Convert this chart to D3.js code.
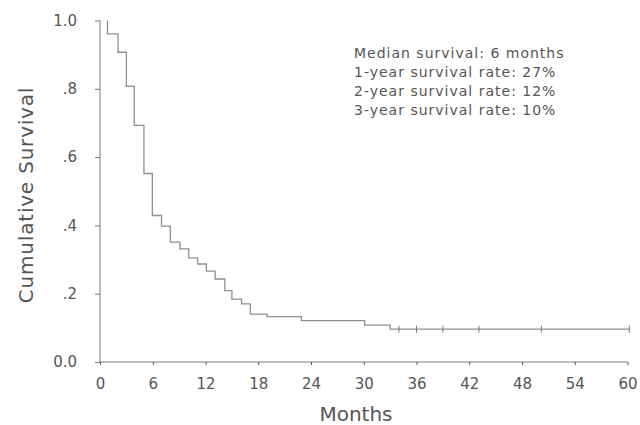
<!DOCTYPE html>
<html>
<head>
<meta charset="utf-8">
<script src="https://cdn.jsdelivr.net/npm/d3@7"></script>
<style>
  html, body { margin: 0; padding: 0; background: #fff; }
  svg { display: block; }
  text { font-family: "DejaVu Sans", Verdana, sans-serif; fill: #555; }
</style>
</head>
<body>
<svg id="chart" width="640" height="425"></svg>
<script>
// Kaplan-Meier estimate
const startTime = 0.85;               // first plotted time (survival = 1.0)
const eventTimes = [0.85, 2.05, 3.0, 3.9, 5.0, 5.95, 7.0, 8.0, 9.1, 10.1, 11.1, 12.1, 13.1, 14.2, 15.0, 16.1, 17.1, 19.0, 22.9, 30.1, 33.0];
const survival   = [0.961, 0.907, 0.807, 0.693, 0.552, 0.429, 0.398, 0.351, 0.331, 0.305, 0.287, 0.266, 0.243, 0.209, 0.184, 0.170, 0.140, 0.133, 0.121, 0.108, 0.096];
const endTime = 60.2;
const censorTimes = [34.0, 36.0, 39.0, 43.1, 50.2, 60.2];
const xTicks = [0, 6, 12, 18, 24, 30, 36, 42, 48, 54, 60];
const yTicks = [0, 0.2, 0.4, 0.6, 0.8, 1.0];
const yTickLabels = ["0.0", ".2", ".4", ".6", ".8", "1.0"];
const notes = ["Median survival: 6 months", "1-year survival rate: 27%", "2-year survival rate: 12%", "3-year survival rate: 10%"];

const svg = d3.select("#chart");
const x = d3.scaleLinear().domain([0, 60]).range([100, 627.5]);
const y = d3.scaleLinear().domain([0, 1]).range([362, 20.5]);
const axisColor = "#7a7a7a";
const font = "'DejaVu Sans', Verdana, sans-serif";

// Y axis
const yAxis = svg.append("g").attr("transform", `translate(${x(0)},0)`)
  .call(d3.axisLeft(y).tickValues(yTicks).tickSize(5).tickPadding(18)
    .tickFormat((d, i) => yTickLabels[i]));
yAxis.select(".domain").attr("stroke", axisColor).attr("d", `M0,${y(0)}V${y(1)}`);
yAxis.selectAll(".tick line").attr("stroke", axisColor);
yAxis.selectAll(".tick text").attr("fill", "#5a5a5a").style("font-size", "15px")
  .style("font-family", font);

// X axis
const xAxis = svg.append("g").attr("transform", `translate(0,${y(0)})`)
  .call(d3.axisBottom(x).tickValues(xTicks).tickSize(3).tickPadding(13));
xAxis.select(".domain").attr("stroke", axisColor).attr("d", `M${x(0)},0H${x(60)}`);
xAxis.selectAll(".tick line").attr("stroke", "#555");
xAxis.selectAll(".tick text").attr("fill", "#5a5a5a").style("font-size", "15px")
  .style("font-family", font);

// Step curve
const pts = [[startTime, 1.0]];
eventTimes.forEach((t, i) => pts.push([t, survival[i]]));
pts.push([endTime, survival[survival.length - 1]]);
const line = d3.line().x(d => x(d[0])).y(d => y(d[1])).curve(d3.curveStepAfter);
svg.append("path").datum(pts).attr("d", line)
  .attr("fill", "none").attr("stroke", "#8f8f8f").attr("stroke-width", 1.3);

// Censor marks
const lastS = survival[survival.length - 1];
svg.selectAll(".censor").data(censorTimes).enter().append("line")
  .attr("x1", d => x(d)).attr("x2", d => x(d))
  .attr("y1", y(lastS) - 3.5).attr("y2", y(lastS) + 3.5)
  .attr("stroke", "#777").attr("stroke-width", 1);

// Notes
svg.append("g").selectAll("text").data(notes).enter().append("text")
  .attr("x", 354).attr("y", (d, i) => 58 + i * 18.9)
  .style("font-size", "14px").style("letter-spacing", "1px")
  .attr("fill", "#444").text(d => d);

// Axis titles
svg.append("text").attr("x", 356).attr("y", 421).attr("text-anchor", "middle")
  .attr("fill", "#5a5a5a").style("font-size", "20px").text("Months");
svg.append("text").attr("transform", "translate(33,195) rotate(-90)")
  .attr("fill", "#5a5a5a")
  .attr("text-anchor", "middle").style("font-size", "20px").style("letter-spacing", "0.8px")
  .text("Cumulative Survival");
</script>
</body>
</html>
